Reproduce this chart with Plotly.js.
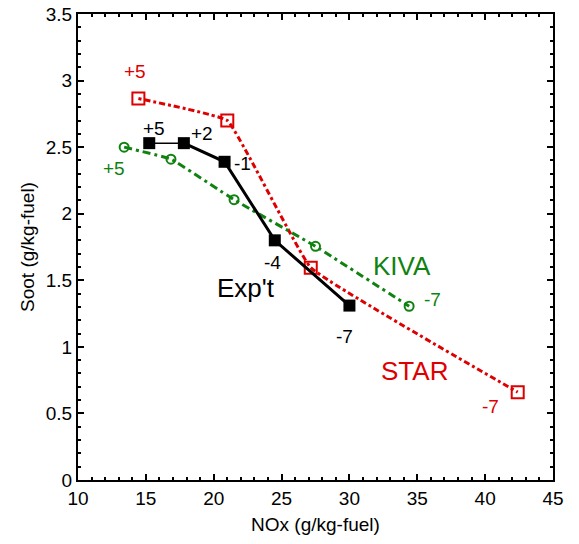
<!DOCTYPE html>
<html>
<head>
<meta charset="utf-8">
<script src="https://cdn.plot.ly/plotly-3.0.1.min.js"></script>
<style>html,body{margin:0;padding:0;background:#fff}#chart{width:579px;height:544px}</style>
</head>
<body>
<div id="chart"></div>
<script>
// Experimental data (injection timing labels)
const expNOx  = [15.25, 17.8, 20.8, 24.5, 30.0];
const expSoot = [2.53, 2.53, 2.39, 1.80, 1.31];
const expLabels = ["+5", "+2", "-1", "-4", "-7"];

// STAR simulation
const starNOx  = [14.45, 21.0, 27.15, 42.4];
const starSoot = [2.865, 2.70, 1.595, 0.66];

// KIVA simulation
const kivaNOx  = [13.4, 16.85, 21.5, 27.5, 34.4];
const kivaSoot = [2.50, 2.41, 2.105, 1.755, 1.305];

const seriesNames = ["Exp't", "STAR", "KIVA"];
const xTitle = "NOx (g/kg-fuel)";
const yTitle = "Soot (g/kg-fuel)";

const RED = "rgb(222,0,0)";
const GREEN = "rgb(16,130,16)";
const FONT = "Liberation Sans, Arial, sans-serif";

const traces = [
  {x: starNOx, y: starSoot, mode: "lines+markers", name: seriesNames[1],
   line: {color: RED, width: 3, dash: "3px,3px,6px,3px", shape: "spline", smoothing: 0.25},
   marker: {symbol: "square-open", size: 12, color: RED, line: {width: 2, color: RED}}},
  {x: kivaNOx, y: kivaSoot, mode: "lines+markers", name: seriesNames[2],
   line: {color: GREEN, width: 3, dash: "8px,4px,3px,4px", shape: "spline", smoothing: 0.25},
   marker: {symbol: "circle-open", size: 9, color: GREEN, line: {width: 2, color: GREEN}}},
  {x: expNOx.slice(0, 2), y: expSoot.slice(0, 2), mode: "lines", showlegend: false,
   line: {color: "black", width: 1.5}},
  {x: expNOx.slice(1), y: expSoot.slice(1), mode: "lines", showlegend: false,
   line: {color: "black", width: 3}},
  {x: expNOx, y: expSoot, mode: "markers", name: seriesNames[0],
   marker: {symbol: "square", size: 12, color: "black"}}
];

function ann(x, y, text, color, size) {
  return {x: x, y: y, xref: "x", yref: "y", text: text, showarrow: false,
          font: {family: FONT, size: size, color: color}, xanchor: "center", yanchor: "middle"};
}

const SMALL = 19, BIG = 26;
const annotations = [
  ann(14.2, 3.065, "+5", RED, SMALL),
  ann(40.4, 0.55, "-7", RED, SMALL),
  ann(34.8, 0.82, seriesNames[1], RED, BIG),
  ann(15.6, 2.64, expLabels[0], "black", SMALL),
  ann(19.1, 2.60, expLabels[1], "black", SMALL),
  ann(22.1, 2.375, expLabels[2], "black", SMALL),
  ann(24.3, 1.635, expLabels[3], "black", SMALL),
  ann(29.6, 1.08, expLabels[4], "black", SMALL),
  ann(22.35, 1.445, seriesNames[0], "black", BIG),
  ann(12.65, 2.34, "+5", GREEN, SMALL),
  ann(33.85, 1.61, seriesNames[2], GREEN, BIG),
  ann(36.15, 1.357, "-7", GREEN, SMALL)
];

const axisCommon = {
  showline: true, linecolor: "black", linewidth: 2, mirror: "ticks",
  ticks: "inside", ticklen: 6, tickwidth: 2, tickcolor: "black",
  showgrid: false, zeroline: false,
  tickfont: {family: FONT, size: 19, color: "black"}
};

const layout = {
  width: 579, height: 544,
  margin: {l: 78, r: 26, t: 14, b: 64},
  paper_bgcolor: "white", plot_bgcolor: "white",
  showlegend: false,
  xaxis: Object.assign({}, axisCommon, {
    range: [10, 45], dtick: 5, tick0: 10,
    minor: {dtick: 1, ticks: "inside", ticklen: 3, tickwidth: 2, tickcolor: "black"},
    title: {text: xTitle, font: {family: FONT, size: 19, color: "black"}, standoff: 10}
  }),
  yaxis: Object.assign({}, axisCommon, {
    range: [0, 3.5], dtick: 0.5, tick0: 0,
    minor: {dtick: 0.1, ticks: "inside", ticklen: 3, tickwidth: 2, tickcolor: "black"},
    title: {text: yTitle, font: {family: FONT, size: 19, color: "black"}, standoff: 6}
  }),
  annotations: annotations
};

Plotly.newPlot("chart", traces, layout, {displayModeBar: false, staticPlot: true});
</script>
</body>
</html>
